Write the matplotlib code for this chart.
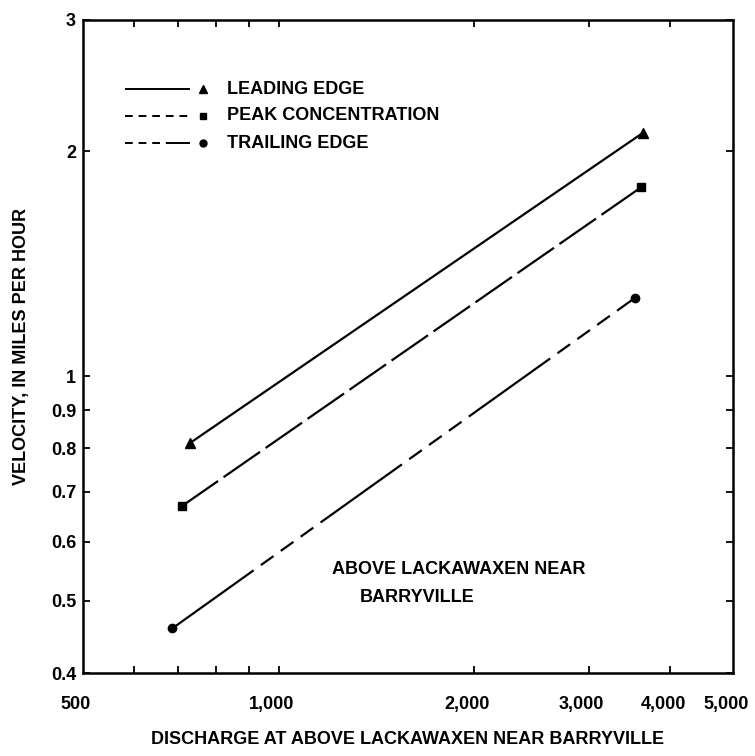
import matplotlib
matplotlib.use("Agg")
import matplotlib.pyplot as plt
import matplotlib.transforms as mtransforms
from matplotlib.ticker import FixedLocator, FixedFormatter, NullLocator

# ---- data ----
series_names = ["LEADING EDGE", "PEAK CONCENTRATION", "TRAILING EDGE"]
discharge_leading = [730, 3640]
velocity_leading = [0.813, 2.12]
discharge_peak = [709, 3610]
velocity_peak = [0.669, 1.79]
discharge_trailing = [686, 3530]
velocity_trailing = [0.459, 1.272]

x_ticks = [600, 700, 800, 900, 1000, 2000, 3000, 4000]
x_label_vals = [500, 1000, 2000, 3000, 4000, 5000]
x_label_txt = ["500", "1,000", "2,000", "3,000", "4,000", "5,000"]
y_ticks = [0.4, 0.5, 0.6, 0.7, 0.8, 0.9, 1, 2, 3]
y_tick_txt = ["0.4", "0.5", "0.6", "0.7", "0.8", "0.9", "1", "2", "3"]

xs = [discharge_leading, discharge_peak, discharge_trailing]
ys = [velocity_leading, velocity_peak, velocity_trailing]
markers = ["^", "s", "o"]
msizes = [7, 6, 6]
dashes = [(0, ()), (0, (20, 3)), (0, (45, 4, 7, 4, 7, 4, 7, 4))]
legend_dashes = [(0, ()), (0, (4, 3)), (0, (4, 3, 4, 3, 4, 3, 16, 0))]

plt.rcParams["font.family"] = ["Liberation Sans", "DejaVu Sans"]
fs = 13

fig = plt.figure(figsize=(7.55, 7.56), dpi=100)
ax = fig.add_axes([83 / 755, (756 - 673) / 756, 650 / 755, 653 / 756])
ax.set_xscale("log")
ax.set_yscale("log")
ax.set_xlim(500, 5000)
ax.set_ylim(0.4, 3)

for x, y, m, ms, ls in zip(xs, ys, markers, msizes, dashes):
    ax.plot(x, y, color="black", lw=1.6, linestyle=ls, marker=m, ms=ms,
            solid_capstyle="butt", dash_capstyle="butt")

# ticks
ax.xaxis.set_major_locator(FixedLocator(x_ticks))
ax.xaxis.set_major_formatter(FixedFormatter([""] * len(x_ticks)))
ax.xaxis.set_minor_locator(NullLocator())
ax.yaxis.set_major_locator(FixedLocator(y_ticks))
ax.yaxis.set_major_formatter(FixedFormatter(y_tick_txt))
ax.yaxis.set_minor_locator(NullLocator())
ax.tick_params(axis="both", which="both", direction="in", length=5, width=1.3,
               top=True, right=True, labelsize=fs, pad=5)
for lab in ax.get_yticklabels():
    lab.set_fontweight("bold")
shift = mtransforms.ScaledTranslation(-7 / 100, 0, fig.dpi_scale_trans)
for v, t in zip(x_label_vals, x_label_txt):
    ax.text(v, -0.049, t, transform=ax.get_xaxis_transform() + shift,
            ha="center", va="center", fontsize=fs, fontweight="bold")

for sp in ax.spines.values():
    sp.set_linewidth(1.8)

ax.set_xlabel("DISCHARGE AT ABOVE LACKAWAXEN NEAR BARRYVILLE",
              fontsize=fs, fontweight="bold", labelpad=37)
ax.set_ylabel("VELOCITY, IN MILES PER HOUR", fontsize=fs, fontweight="bold",
              labelpad=15)

# manual legend
leg_y = [0.894, 0.853, 0.811]
for name, m, ms, ls, yy in zip(series_names, markers, msizes, legend_dashes, leg_y):
    ax.plot([0.065, 0.165], [yy, yy], transform=ax.transAxes, color="black",
            lw=1.4, linestyle=ls, dash_capstyle="butt")
    ax.plot([0.185], [yy], transform=ax.transAxes, color="black",
            marker=m, ms=ms - 1, linestyle="none")
    ax.text(0.222, yy, name, transform=ax.transAxes, fontsize=fs,
            fontweight="bold", va="center", ha="left")

ax.text(0.383, 0.158, "ABOVE LACKAWAXEN NEAR", transform=ax.transAxes,
        fontsize=fs, fontweight="bold", va="center", ha="left")
ax.text(0.426, 0.115, "BARRYVILLE", transform=ax.transAxes,
        fontsize=fs, fontweight="bold", va="center", ha="left")

fig.savefig("out.png", dpi=100)
